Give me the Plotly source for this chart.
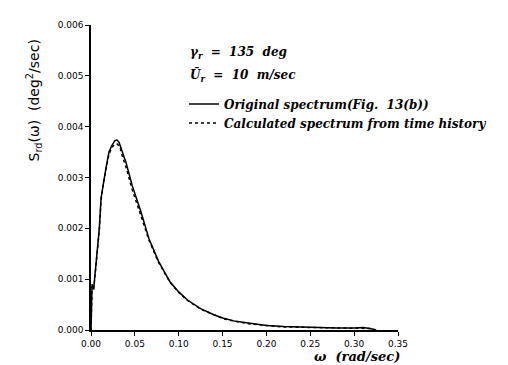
import plotly.graph_objects as go

# Original spectrum (solid)
omega_orig = [0, 0.0012, 0.003, 0.006, 0.0095, 0.0115, 0.014, 0.017, 0.0205, 0.0235,
              0.027, 0.0295, 0.032, 0.036, 0.040, 0.047, 0.057, 0.066, 0.077, 0.090,
              0.100, 0.110, 0.125, 0.140, 0.151, 0.165, 0.181, 0.200, 0.220, 0.250,
              0.280, 0.300, 0.310, 0.318, 0.325]
S_orig = [0, 0.00090, 0.00080, 0.00135, 0.00200, 0.00260, 0.00290, 0.00318, 0.00350, 0.00362,
          0.00372, 0.00374, 0.00369, 0.00348, 0.00329, 0.00284, 0.00232, 0.00180, 0.00135, 0.00095,
          0.00075, 0.00059, 0.00042, 0.00030, 0.00023, 0.00017, 0.00013, 0.00009, 0.00007, 0.00005,
          0.00004, 0.00004, 0.00005, 0.00003, 0]

# Calculated spectrum from time history (dashed)
omega_calc = [0, 0.0012, 0.003, 0.006, 0.0095, 0.0115, 0.014, 0.017, 0.0205, 0.0235,
              0.027, 0.030, 0.033, 0.036, 0.040, 0.047, 0.057, 0.066, 0.077, 0.090,
              0.100, 0.110, 0.125, 0.140, 0.151, 0.165, 0.181, 0.200, 0.220, 0.250,
              0.280, 0.300, 0.310, 0.318, 0.325]
S_calc = [0, 0.00085, 0.00078, 0.00132, 0.00198, 0.00256, 0.00288, 0.00315, 0.00346, 0.00358,
          0.00366, 0.00366, 0.00360, 0.00340, 0.00320, 0.00276, 0.00226, 0.00177, 0.00133, 0.00094,
          0.00074, 0.00058, 0.00041, 0.00030, 0.00022, 0.00017, 0.00012, 0.00009, 0.00006, 0.00005,
          0.00004, 0.00003, 0.00004, 0.00003, 0]

x_ticks = [0.00, 0.05, 0.10, 0.15, 0.20, 0.25, 0.30, 0.35]
y_ticks = [0.000, 0.001, 0.002, 0.003, 0.004, 0.005, 0.006]

label_font = dict(family="DejaVu Serif", size=12, color="black")
sp = "\u00a0\u00a0"

fig = go.Figure()
fig.add_trace(go.Scatter(x=omega_orig, y=S_orig, mode="lines",
                         name="<b><i>Original" + "\u00a0" + "spectrum(Fig." + sp + "13(b))</i></b>",
                         line=dict(color="black", width=1.5)))
fig.add_trace(go.Scatter(x=omega_calc, y=S_calc, mode="lines",
                         name="<b><i>Calculated spectrum from time history</i></b>",
                         line=dict(color="black", width=1.5, dash="3px,3px")))

L, R, T, B = 83, 118, 15, 43
W, H = 508, 365
pw, ph = W - L - R, H - T - B

def px(xp):
    return (xp - L) / pw

def py(yp):
    return (H - B - yp) / ph

fig.update_layout(
    width=W, height=H,
    margin=dict(l=L, r=R, t=T, b=B),
    paper_bgcolor="white", plot_bgcolor="white",
    showlegend=True,
    legend=dict(x=px(176), y=py(80), xanchor="left", yanchor="top",
                bgcolor="rgba(0,0,0,0)", font=label_font, tracegroupgap=0),
    xaxis=dict(range=[0, 0.35], tickvals=x_ticks, tickformat=".2f",
               showline=True, linecolor="black", linewidth=1.5,
               ticks="outside", ticklen=4, tickcolor="black",
               showgrid=False, zeroline=False,
               tickfont=dict(family="DejaVu Sans", size=9, color="black")),
    yaxis=dict(range=[0, 0.006], tickvals=y_ticks, tickformat=".3f",
               showline=True, linecolor="black", linewidth=1.5,
               ticks="outside", ticklen=4, tickcolor="black",
               showgrid=False, zeroline=False,
               tickfont=dict(family="DejaVu Sans", size=9, color="black")),
    font=dict(family="DejaVu Sans", color="black"),
)

fig.add_annotation(xref="paper", yref="paper", x=px(180), y=py(43),
                   xanchor="left", yanchor="middle", showarrow=False,
                   text="<b><i>γ<sub>r</sub>" + sp + "=" + sp + "135" + sp + "deg</i></b>",
                   font=label_font)
fig.add_annotation(xref="paper", yref="paper", x=px(180), y=py(66),
                   xanchor="left", yanchor="middle", showarrow=False,
                   text="<b><i>Ū<sub>r</sub>" + sp + "=" + sp + "10" + sp + "m/sec</i></b>",
                   font=label_font)
fig.add_annotation(xref="paper", yref="paper", x=px(393), y=py(349),
                   xanchor="right", yanchor="middle", showarrow=False, borderpad=0,
                   text="<b><i>ω" + sp + "(rad/sec)</i></b>",
                   font=dict(family="DejaVu Serif", size=13, color="black"))
fig.add_annotation(xref="paper", yref="paper", x=px(26), y=py(91),
                   xanchor="center", yanchor="middle", showarrow=False, textangle=-90,
                   text="S<sub>rd</sub>(ω)" + sp + "(deg<sup>2</sup>/sec)",
                   font=dict(family="DejaVu Sans", size=14, color="black"))

fig.write_html("out.html")
